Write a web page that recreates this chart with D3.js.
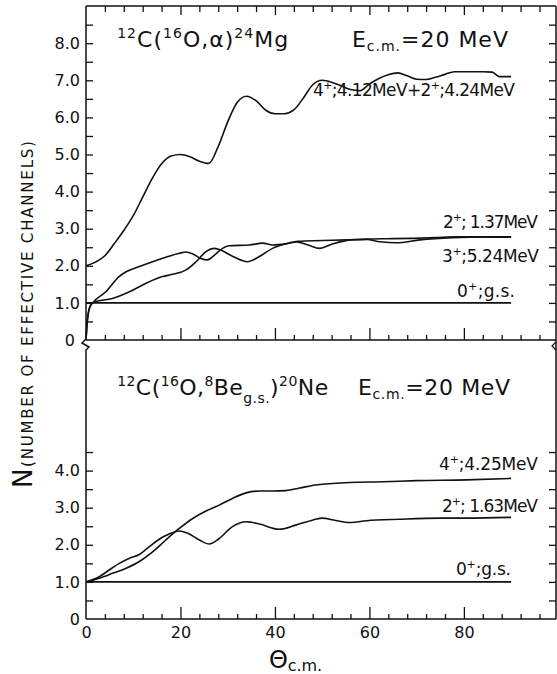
<!DOCTYPE html>
<html><head><meta charset="utf-8">
<script src="https://cdn.jsdelivr.net/npm/d3@7"></script>
<style>
html,body{margin:0;padding:0;background:#fff;}
svg{display:block;}
text{font-family:"DejaVu Sans",sans-serif;fill:#111;}
</style></head><body>
<svg id="chart" width="557" height="674"></svg>
<script>
// ---- 12C(16O,alpha)24Mg, Ecm = 20 MeV ----
const mgTheta4 = [0, 2, 4, 6, 8, 10, 12, 14, 16, 18, 20, 22, 24, 26, 28, 30, 32, 34, 36, 38, 40, 42, 44, 46, 48, 50, 52, 54, 56, 58, 60, 62, 64, 66, 68, 70, 72, 74, 76, 78, 80, 82, 84, 86, 87.5, 90];
const mgN4 = [2.0, 2.1, 2.27, 2.6, 2.95, 3.35, 3.85, 4.35, 4.75, 4.96, 5.0, 4.94, 4.82, 4.76, 5.22, 5.88, 6.4, 6.57, 6.45, 6.2, 6.1, 6.1, 6.2, 6.52, 6.88, 7.0, 6.95, 6.85, 6.75, 6.72, 6.9, 7.05, 7.15, 7.2, 7.12, 7.03, 7.02, 7.08, 7.16, 7.23, 7.23, 7.23, 7.23, 7.22, 7.1, 7.1];

const mgTheta2 = [0, 0.3, 0.85, 1.55, 4.2, 7, 8.5, 11.3, 14.1, 16.9, 19.8, 21.2, 22.6, 24.3, 25.7, 27.2, 28.9, 30.3, 34.6, 37.4, 39.5, 42.3, 44.6, 47, 49.5, 52, 56.2, 59.4, 62.2, 65.7, 70.7, 77.7, 84, 90];
const mgN2 = [0, 0.54, 0.9, 1.02, 1.30, 1.71, 1.84, 1.98, 2.11, 2.23, 2.34, 2.37, 2.32, 2.20, 2.16, 2.29, 2.47, 2.54, 2.56, 2.61, 2.56, 2.59, 2.64, 2.56, 2.47, 2.58, 2.70, 2.71, 2.65, 2.62, 2.70, 2.76, 2.78, 2.77];

const mgTheta3 = [0, 0.3, 0.85, 1.55, 5.6, 9.2, 12.7, 16.2, 18.3, 21.2, 23.3, 25.4, 27.2, 28.2, 31, 34.2, 36.7, 39.5, 42.3, 44.9, 50, 55.2, 59.4, 64, 69.2, 74, 78.4, 84, 90];
const mgN3 = [0, 0.54, 0.9, 1.02, 1.12, 1.30, 1.53, 1.71, 1.77, 1.89, 2.11, 2.38, 2.47, 2.44, 2.26, 2.11, 2.25, 2.47, 2.59, 2.66, 2.68, 2.70, 2.72, 2.73, 2.74, 2.76, 2.78, 2.78, 2.78];

const gsTheta = [0, 90];
const gsN = [1, 1];

// ---- 12C(16O,8Be g.s.)20Ne, Ecm = 20 MeV ----
const neTheta4 = [0, 2.8, 5.6, 8.5, 11.3, 14.1, 16.9, 19.75, 22.6, 25.4, 28.2, 31, 33.9, 36.7, 39.5, 42.3, 45.2, 49, 55.9, 62.9, 70, 80.6, 90];
const neN4 = [1.0, 1.10, 1.23, 1.37, 1.55, 1.81, 2.13, 2.44, 2.71, 2.91, 3.07, 3.25, 3.40, 3.45, 3.45, 3.46, 3.53, 3.62, 3.68, 3.70, 3.73, 3.75, 3.79];

const neTheta2 = [0, 2.8, 4.9, 7.05, 9.2, 11.3, 13.4, 15.5, 17.6, 19.75, 21.5, 24, 26.1, 28.2, 31, 33.9, 36.7, 40.9, 44.4, 48.1, 50.1, 52.4, 55.9, 59.4, 66.4, 74.9, 80.6, 90];
const neN2 = [1.0, 1.14, 1.32, 1.50, 1.64, 1.74, 1.95, 2.15, 2.29, 2.37, 2.31, 2.13, 2.02, 2.17, 2.49, 2.62, 2.56, 2.42, 2.53, 2.67, 2.72, 2.67, 2.60, 2.65, 2.69, 2.72, 2.72, 2.74];

// ---- ticks ----
const xLabelTicks = [0, 20, 40, 60, 80];
const xMajorTicks = [20, 40, 60, 80];
const xMinorTicks = d3.range(4, 100, 4).filter(d => d % 20 !== 0);
const upperYTicks = d3.range(0.5, 9, 0.5);
const lowerYTicks = d3.range(0.5, 5, 0.5);

const svg = d3.select("#chart");
const FONT = "DejaVu Sans";

const x = d3.scaleLinear().domain([0, 99.5]).range([86, 556]);
const yU = d3.scaleLinear().domain([0, 9]).range([340, 6.1]);
const yL = d3.scaleLinear().domain([0, 7.5]).range([619, 340.75]);

const xL = x.range()[0], xR = x.range()[1];
const yTop = yU.range()[1], yMid = yU.range()[0], yBot = yL.range()[0];

function styleAxis(g, size) {
  g.select(".domain").remove();
  g.selectAll("line").attr("stroke", "#111").attr("stroke-width", 1.3);
  g.selectAll("text").attr("font-size", size).attr("font-family", FONT).attr("fill", "#111");
}

// x ticks on the upper panel (bottom edge, top edge) and the lower panel
function xTicks(axisFn, yPos, len, values) {
  const g = svg.append("g").attr("transform", `translate(0,${yPos})`)
    .call(axisFn(x).tickValues(values).tickSizeInner(len).tickSizeOuter(0).tickFormat(""));
  styleAxis(g, 16);
}
xTicks(d3.axisBottom, yMid, -5, xMinorTicks);
xTicks(d3.axisBottom, yMid, -12, xMajorTicks);
xTicks(d3.axisTop, yTop, -6, xMinorTicks);
xTicks(d3.axisTop, yTop, -9, xMajorTicks);
xTicks(d3.axisBottom, yBot, -5, xMinorTicks);
xTicks(d3.axisBottom, yBot, -12, xMajorTicks);

// bottom tick labels
const gxl = svg.append("g").attr("transform", `translate(0,${yBot})`)
  .call(d3.axisBottom(x).tickValues(xLabelTicks).tickSize(0).tickPadding(8).tickFormat(d3.format("d")));
styleAxis(gxl, 16);

// y ticks
const fmtY = d => Number.isInteger(d) ? d.toFixed(1) : "";
function yTicks(scale, values) {
  const gl = svg.append("g").attr("transform", `translate(${xL},0)`)
    .call(d3.axisLeft(scale).tickValues(values).tickSizeInner(-7).tickSizeOuter(0).tickPadding(6).tickFormat(fmtY));
  styleAxis(gl, 16);
  const gr = svg.append("g").attr("transform", `translate(${xR},0)`)
    .call(d3.axisRight(scale).tickValues(values).tickSizeInner(-7).tickSizeOuter(0).tickFormat(""));
  styleAxis(gr, 16);
}
yTicks(yU, upperYTicks);
yTicks(yL, lowerYTicks);

// zero labels of both panels
svg.append("text").attr("x", xL - 11).attr("y", yU(0)).attr("dy", "0.35em")
  .attr("text-anchor", "end").attr("font-size", 16).text("0");
svg.append("text").attr("x", xL - 6).attr("y", yL(0)).attr("dy", "0.35em")
  .attr("text-anchor", "end").attr("font-size", 16).text("0");

// frame
const frame = svg.append("g").attr("fill", "none").attr("stroke", "#111").attr("stroke-width", 1.5);
frame.append("line").attr("x1", xL).attr("x2", xR).attr("y1", yTop).attr("y2", yTop);
frame.append("line").attr("x1", xL).attr("x2", xR).attr("y1", yMid).attr("y2", yMid);
frame.append("line").attr("x1", xL).attr("x2", xR).attr("y1", yBot).attr("y2", yBot);
frame.append("line").attr("x1", xR).attr("x2", xR).attr("y1", yTop).attr("y2", yBot);
// left axis with the break mark just below the upper zero
frame.append("path").attr("d",
  `M${xL},${yTop}L${xL},${yMid - 1}L${xL - 4},${yMid + 3}L${xL + 3},${yMid + 7}L${xL},${yMid + 10}L${xL},${yBot}`);
// break mark on the right edge
frame.append("path").attr("stroke-width", 1.2).attr("d",
  `M${xR},${yMid + 2}L${xR - 4},${yMid + 6}L${xR},${yMid + 10}`);

// curves
const lineU = d3.line().x(d => x(d[0])).y(d => yU(d[1])).curve(d3.curveMonotoneX);
const lineL = d3.line().x(d => x(d[0])).y(d => yL(d[1])).curve(d3.curveMonotoneX);
const curves = svg.append("g").attr("fill", "none").attr("stroke", "#111")
  .attr("stroke-width", 1.6).attr("stroke-linejoin", "round");
[[mgTheta4, mgN4], [mgTheta2, mgN2], [mgTheta3, mgN3], [gsTheta, gsN]].forEach(([t, n]) =>
  curves.append("path").attr("d", lineU(d3.zip(t, n))));
[[neTheta4, neN4], [neTheta2, neN2], [gsTheta, gsN]].forEach(([t, n]) =>
  curves.append("path").attr("d", lineL(d3.zip(t, n))));

// text built from runs of different sizes and baseline shifts
function richText(px, py, segs, width) {
  const t = svg.append("text").attr("x", px).attr("y", py);
  let cur = 0;
  segs.forEach(s => {
    const shift = s.shift || 0;
    t.append("tspan").attr("font-size", s.size).attr("dy", shift - cur).text(s.t);
    cur = shift;
  });
  if (width) t.attr("textLength", width).attr("lengthAdjust", "spacing");
  return t;
}
const BIG = 22, SUP = 14, LAB = 17, PLUS = 11;
const state = (a, b) => [{t: a, size: LAB}, {t: "+", size: PLUS, shift: -7}, {t: b, size: LAB}];

// upper panel texts
richText(x(6.6), yU(7.9), [
  {t: "12", size: SUP, shift: -9}, {t: "C(", size: BIG}, {t: "16", size: SUP, shift: -9},
  {t: "O,α)", size: BIG}, {t: "24", size: SUP, shift: -9}, {t: "Mg", size: BIG}], 171);
richText(x(56.3), yU(7.9), [
  {t: "E", size: BIG}, {t: "c.m.", size: SUP, shift: 4}, {t: "=20 MeV", size: BIG}], 156);
richText(313, yU(6.57), [
  {t: "4", size: LAB}, {t: "+", size: PLUS, shift: -7}, {t: ";4.12MeV+2", size: LAB},
  {t: "+", size: PLUS, shift: -7}, {t: ";4.24MeV", size: LAB}], 202);
richText(443, yU(3.02), state("2", "; 1.37MeV"), 95);
richText(442, yU(2.10), state("3", ";5.24MeV"), 97);
richText(457, yU(1.16), state("0", ";g.s."), 58);

// lower panel texts
richText(x(6.6), yL(6.04), [
  {t: "12", size: SUP, shift: -9}, {t: "C(", size: BIG}, {t: "16", size: SUP, shift: -9},
  {t: "O,", size: BIG}, {t: "8", size: SUP, shift: -9}, {t: "Be", size: BIG},
  {t: "g.s.", size: SUP, shift: 8}, {t: ")", size: BIG}, {t: "20", size: SUP, shift: -9},
  {t: "Ne", size: BIG}], 211);
richText(358, yL(6.04), [
  {t: "E", size: BIG}, {t: "c.m.", size: SUP, shift: 4}, {t: "=20 MeV", size: BIG}], 152);
richText(439, yL(4.02), state("4", ";4.25MeV"), 99);
richText(442, yL(2.88), state("2", "; 1.63MeV"), 96);
richText(456, yL(1.19), state("0", ";g.s."), 55);

// axis titles
svg.append("text").attr("transform", "translate(32,488) rotate(-90)")
  .attr("font-size", 26).text("N");
svg.append("text").attr("transform", "translate(33,467) rotate(-90)")
  .attr("font-size", 15).attr("textLength", 326).attr("lengthAdjust", "spacing")
  .text("(NUMBER OF EFFECTIVE CHANNELS)");
richText(269, 668, [{t: "Θ", size: 24}, {t: "c.m.", size: 16, shift: 3}], 53);
</script>
</body></html>
